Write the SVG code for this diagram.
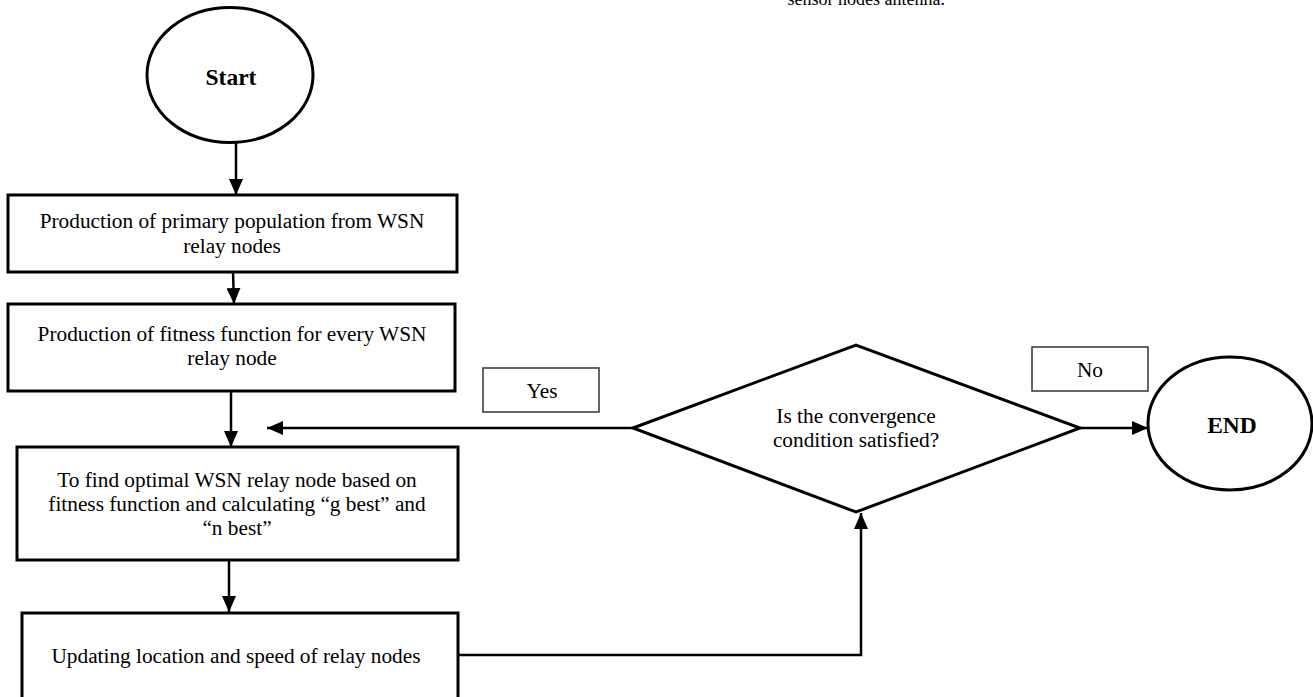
<svg xmlns="http://www.w3.org/2000/svg" width="1313" height="697" viewBox="0 0 1313 697">
<defs>
<style>
text{font-family:"Liberation Serif","Times New Roman",serif;font-size:21.3px;fill:#000;text-anchor:middle}
.b{font-weight:bold;font-size:23.5px}
.box{fill:#fff;stroke:#000;stroke-width:3}
.lbl{fill:#fff;stroke:#333;stroke-width:1.5}
.con{fill:none;stroke:#000;stroke-width:2.5}
</style>
<marker id="ah" viewBox="0 0 16 14" refX="16" refY="7" markerWidth="16" markerHeight="14" markerUnits="userSpaceOnUse" orient="auto"><path d="M0,0 L16,7 L0,14 z" fill="#000"/></marker>
</defs>
<rect width="1313" height="697" fill="#fff"/>
<text x="945" y="5" style="text-anchor:end;font-size:18px">sensor nodes antenna.</text>
<g id="start"><ellipse class="box" cx="230" cy="75" rx="83" ry="67.5"/><text class="b" x="231" y="85">Start</text></g>
<g id="n1"><rect class="box" x="8" y="195" width="449" height="77"/><text x="232" y="228">Production of primary population from WSN</text><text x="232" y="253">relay nodes</text></g>
<g id="n2"><rect class="box" x="8" y="304" width="447" height="87"/><text x="232" y="341">Production of fitness function for every WSN</text><text x="232" y="365">relay node</text></g>
<g id="n3"><rect class="box" x="17" y="447" width="441" height="113"/><text x="237" y="487">To find optimal WSN relay node based on</text><text x="237" y="511">fitness function and calculating “g best” and</text><text x="237" y="535">“n best”</text></g>
<g id="n4"><rect class="box" x="22" y="613" width="436" height="90"/><text x="236" y="663">Updating location and speed of relay nodes</text></g>
<g id="dec"><polygon class="box" points="633,428 856,345 1080,428 856,512"/><text x="856" y="423">Is the convergence</text><text x="856" y="447">condition satisfied?</text></g>
<g id="end"><ellipse class="box" cx="1230" cy="423.5" rx="82" ry="66.5"/><text class="b" x="1232" y="433">END</text></g>
<g id="yes"><rect class="lbl" x="483" y="368" width="116" height="44"/><text x="542" y="398">Yes</text></g>
<g id="no"><rect class="lbl" x="1032" y="347" width="116" height="44"/><text x="1090" y="377">No</text></g>
<g id="connectors">
<line class="con" x1="236" y1="142" x2="236" y2="195" marker-end="url(#ah)"/>
<line class="con" x1="233" y1="272" x2="234" y2="304" marker-end="url(#ah)"/>
<line class="con" x1="231" y1="391" x2="231" y2="447" marker-end="url(#ah)"/>
<line class="con" x1="229" y1="560" x2="229" y2="612" marker-end="url(#ah)"/>
<line class="con" x1="633" y1="428" x2="267" y2="428" marker-end="url(#ah)"/>
<line class="con" x1="1080" y1="428" x2="1148" y2="428" marker-end="url(#ah)"/>
<polyline class="con" points="458,655 861,655 861,513" marker-end="url(#ah)"/>
</g>
</svg>
